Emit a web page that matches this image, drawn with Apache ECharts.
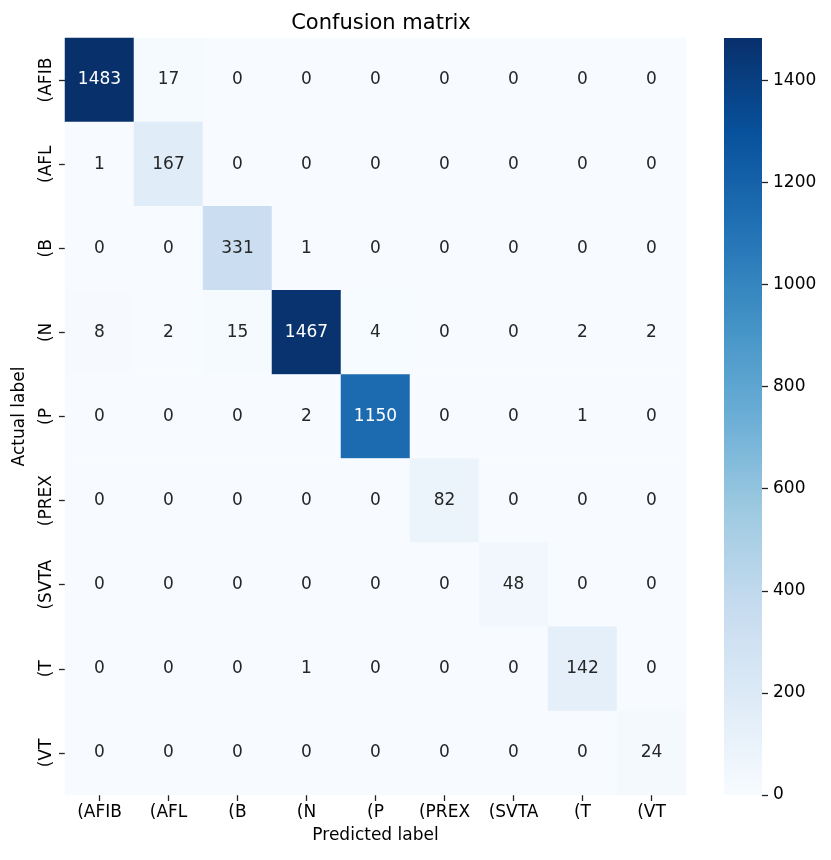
<!DOCTYPE html>
<html>
<head>
<meta charset="utf-8">
<script src="https://cdn.jsdelivr.net/npm/echarts@6/dist/echarts.min.js"></script>
<style>html,body{margin:0;padding:0;background:#fff}#c{width:831px;height:860px}</style>
</head>
<body>
<div id="c"></div>
<script>
var labels = ['(AFIB', '(AFL', '(B', '(N', '(P', '(PREX', '(SVTA', '(T', '(VT'];
var rowAFIB = [1483, 17, 0, 0, 0, 0, 0, 0, 0];
var rowAFL  = [1, 167, 0, 0, 0, 0, 0, 0, 0];
var rowB    = [0, 0, 331, 1, 0, 0, 0, 0, 0];
var rowN    = [8, 2, 15, 1467, 4, 0, 0, 2, 2];
var rowP    = [0, 0, 0, 2, 1150, 0, 0, 1, 0];
var rowPREX = [0, 0, 0, 0, 0, 82, 0, 0, 0];
var rowSVTA = [0, 0, 0, 0, 0, 0, 48, 0, 0];
var rowT    = [0, 0, 0, 1, 0, 0, 0, 142, 0];
var rowVT   = [0, 0, 0, 0, 0, 0, 0, 0, 24];
var colorbarTicks = [0, 200, 400, 600, 800, 1000, 1200, 1400];

var rows = [rowAFIB, rowAFL, rowB, rowN, rowP, rowPREX, rowSVTA, rowT, rowVT];
var blues = ['#f7fbff','#deebf7','#c6dbef','#9ecae1','#6baed6','#4292c6','#2171b5','#08519c','#08306b'];
var vmax = 0;
rows.forEach(function(r){ r.forEach(function(v){ if (v > vmax) vmax = v; }); });

var FONT = 'DejaVu Sans';
var FS = 17;
var data = [];
rows.forEach(function(r, yi){
  r.forEach(function(v, xi){
    data.push({
      value: [xi, yi, v],
      label: { color: (v / vmax > 0.55) ? '#ffffff' : '#262626' }
    });
  });
});

var stops = blues.map(function(c, i){ return { offset: 1 - i / (blues.length - 1), color: c }; }).reverse();

var chart = echarts.init(document.getElementById('c'), null, { renderer: 'canvas' });
chart.setOption({
  animation: false,
  backgroundColor: '#ffffff',
  textStyle: { fontFamily: FONT },
  title: {
    text: 'Confusion matrix',
    left: 376, top: 8, textAlign: 'center',
    textStyle: { fontFamily: FONT, fontSize: 21, fontWeight: 'normal', color: '#000' }
  },
  grid: [
    { left: 65, right: 145, top: 38, bottom: 65 },
    { left: 724, width: 38, top: 38, bottom: 65 }
  ],
  xAxis: [
    {
      gridIndex: 0, type: 'category', data: labels,
      name: 'Predicted label', nameLocation: 'middle', nameGap: 32,
      nameTextStyle: { fontFamily: FONT, fontSize: FS, color: '#000' },
      axisLine: { show: false },
      axisTick: { show: true, alignWithLabel: true, length: 6, lineStyle: { color: '#222', width: 1.3 } },
      axisLabel: { fontFamily: FONT, fontSize: FS, color: '#000', margin: 9 },
      splitLine: { show: false }, splitArea: { show: false }
    },
    {
      gridIndex: 1, type: 'category', data: [''],
      axisLine: { show: false }, axisTick: { show: false }, axisLabel: { show: false }
    }
  ],
  yAxis: [
    {
      gridIndex: 0, type: 'category', data: labels, inverse: true,
      name: 'Actual label', nameLocation: 'middle', nameGap: 37,
      nameTextStyle: { fontFamily: FONT, fontSize: FS, color: '#000' },
      axisLine: { show: false },
      axisTick: { show: true, alignWithLabel: true, length: 6, lineStyle: { color: '#222', width: 1.3 } },
      axisLabel: { fontFamily: FONT, fontSize: FS, color: '#000', rotate: 90, margin: 10 },
      splitLine: { show: false }, splitArea: { show: false }
    },
    {
      gridIndex: 1, type: 'value', min: 0, max: vmax, position: 'right',
      axisLine: { show: false },
      axisTick: { show: true, length: 6, customValues: colorbarTicks, lineStyle: { color: '#222', width: 1.3 } },
      axisLabel: {
        fontFamily: FONT, fontSize: FS, color: '#000', margin: 11,
        customValues: colorbarTicks,
        formatter: function(v){ return String(v); }
      },
      splitLine: { show: false }
    }
  ],
  visualMap: {
    show: false, min: 0, max: vmax, seriesIndex: 0, dimension: 2,
    inRange: { color: blues }
  },
  series: [
    {
      type: 'heatmap', xAxisIndex: 0, yAxisIndex: 0, data: data,
      label: { show: true, fontFamily: FONT, fontSize: FS },
      emphasis: { disabled: true },
      itemStyle: { borderWidth: 0 }
    },
    {
      type: 'bar', xAxisIndex: 1, yAxisIndex: 1, data: [vmax],
      barWidth: '100%', silent: true,
      itemStyle: { color: new echarts.graphic.LinearGradient(0, 0, 0, 1, stops) }
    }
  ]
});
</script>
</body>
</html>
